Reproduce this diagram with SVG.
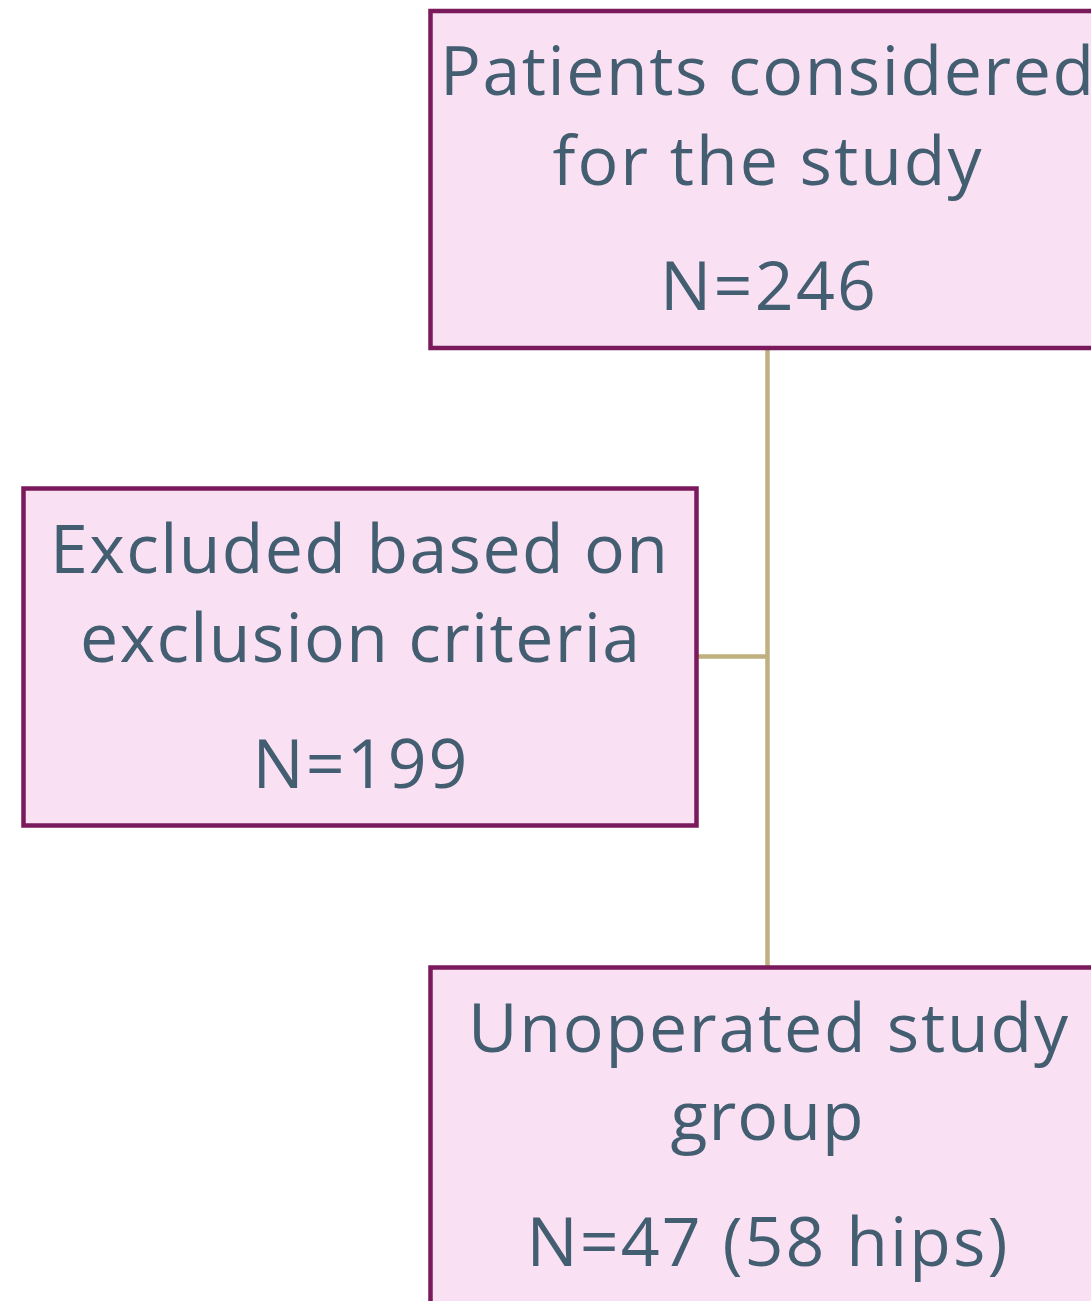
<svg xmlns="http://www.w3.org/2000/svg" width="1091" height="1301" viewBox="0 0 1091 1301">
<style>
.box{fill:#F9E1F3;stroke:#7A1A5C;stroke-width:4.5}
.t{font-family:"Open Sans","Noto Sans",sans-serif;font-size:68px;fill:#445E71;text-anchor:middle}
.c{stroke:#BFB07F;stroke-width:4.5;fill:none}
</style>
<rect width="1091" height="1301" fill="#fff"/>
<g id="connectors">
<line class="c" x1="767.5" y1="348" x2="767.5" y2="967"/>
<line class="c" x1="697" y1="656.5" x2="767.5" y2="656.5"/>
</g>
<g id="n1">
<rect class="box" x="430.5" y="11" width="700" height="337"/>
<text class="t" x="767" y="95" textLength="654">Patients considered</text>
<text class="t" x="767" y="185" textLength="429">for the study</text>
<text class="t" x="768" y="310" textLength="216">N=246</text>
</g>
<g id="n2">
<rect class="box" x="23.5" y="488.5" width="673" height="337"/>
<text class="t" x="359" y="573" textLength="618">Excluded based on</text>
<text class="t" x="360" y="662" textLength="560">exclusion criteria</text>
<text class="t" x="360" y="788" textLength="215">N=199</text>
</g>
<g id="n3">
<rect class="box" x="430.5" y="967.5" width="700" height="400"/>
<text class="t" x="768" y="1052" textLength="600">Unoperated study</text>
<text class="t" x="767" y="1140" textLength="193">group</text>
<text class="t" x="767" y="1266" textLength="481">N=47 (58 hips)</text>
</g>
</svg>
